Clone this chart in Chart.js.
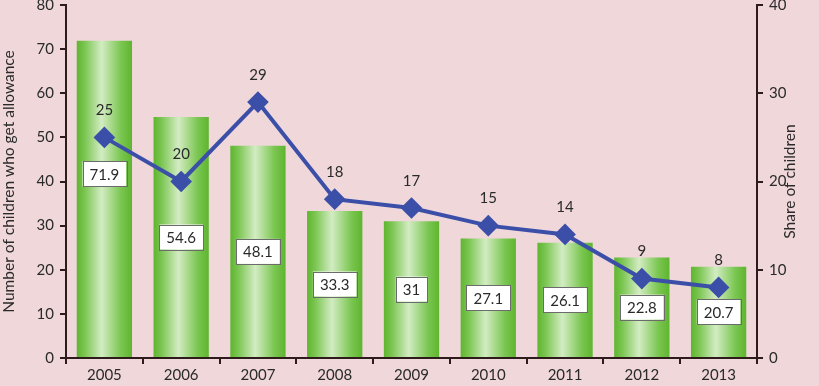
<!DOCTYPE html>
<html>
<head>
<meta charset="utf-8">
<script src="https://cdn.jsdelivr.net/npm/chart.js@4"></script>
<style>
  html, body { margin: 0; padding: 0; background: #efd7da; }
  #wrap { width: 819px; height: 386px; }
</style>
</head>
<body>
<div id="wrap"><canvas id="chart" width="819" height="386"></canvas></div>
<script>
const years = ['2005', '2006', '2007', '2008', '2009', '2010', '2011', '2012', '2013'];
const childrenCount = [71.9, 54.6, 48.1, 33.3, 31, 27.1, 26.1, 22.8, 20.7];
const childrenShare = [25, 20, 29, 18, 17, 15, 14, 9, 8];
const leftTicks = [0, 10, 20, 30, 40, 50, 60, 70, 80];
const rightTicks = [0, 10, 20, 30, 40];

const axisColor = '#2e1c1c';
const textColor = '#2a2a2a';
const fontFamily = 'Lato, "Open Sans", sans-serif';

// gradient for each bar, light stripe a bit left of centre
function barGradient(ctx) {
  const chart = ctx.chart;
  if (!chart.chartArea || !chart.scales.x) return '#7cc44f';
  const x = chart.scales.x.getPixelForValue(ctx.dataIndex);
  const w = (chart.scales.x.width / years.length) * 0.72;
  const g = chart.ctx.createLinearGradient(x - w / 2, 0, x + w / 2, 0);
  g.addColorStop(0, '#5fb52f');
  g.addColorStop(0.15, '#7cc653');
  g.addColorStop(0.45, '#d3ecc3');
  g.addColorStop(0.8, '#7ac651');
  g.addColorStop(1, '#5fb52f');
  return g;
}

// white boxed labels inside bars, plain labels above line points, rotated right title
const labelPlugin = {
  id: 'labels',
  afterDatasetsDraw(chart, args, opts) {
    const ctx = chart.ctx;
    const shift = opts.boxShift || {};
    ctx.save();
    ctx.font = '15px ' + fontFamily;
    ctx.textAlign = 'center';
    ctx.textBaseline = 'middle';

    const bars = chart.getDatasetMeta(0).data;
    bars.forEach((bar, i) => {
      const txt = String(childrenCount[i]);
      const cy = (bar.y + bar.base) / 2 + (shift[i] || 0);
      const tw = ctx.measureText(txt).width;
      const bw = tw + 14, bh = 25;
      ctx.fillStyle = '#ffffff';
      ctx.fillRect(bar.x - bw / 2, cy - bh / 2, bw, bh);
      ctx.strokeStyle = '#6b6b6b';
      ctx.lineWidth = 1;
      ctx.strokeRect(Math.round(bar.x - bw / 2) + 0.5, Math.round(cy - bh / 2) + 0.5, Math.round(bw), bh);
      ctx.fillStyle = textColor;
      ctx.fillText(txt, bar.x, cy + 1);
    });

    const pts = chart.getDatasetMeta(1).data;
    pts.forEach((p, i) => {
      ctx.fillStyle = textColor;
      ctx.fillText(String(childrenShare[i]), p.x, p.y - 27);
    });

    // right axis title, reading bottom to top
    const r = chart.scales.y1;
    ctx.translate(790, (r.top + r.bottom) / 2);
    ctx.rotate(-Math.PI / 2);
    ctx.font = '15.5px ' + fontFamily;
    ctx.fillText('Share of children', 0, 0);
    ctx.restore();
  }
};

// let the top tick label stick out above the plot, as in the original
const noPad = () => ({ left: 0, top: 0, right: 0, bottom: 0 });
function fitY(width) {
  return s => {
    s.width = width;
    s.paddingTop = 0;
    s.paddingBottom = 0;
    s.getPadding = noPad;
  };
}

new Chart(document.getElementById('chart'), {
  data: {
    labels: years,
    datasets: [
      {
        type: 'bar',
        data: childrenCount,
        backgroundColor: barGradient,
        borderWidth: 0,
        categoryPercentage: 1,
        barPercentage: 0.72,
        yAxisID: 'y',
        order: 2
      },
      {
        type: 'line',
        data: childrenShare,
        borderColor: '#3b4fa8',
        backgroundColor: '#3b4fa8',
        borderWidth: 4,
        pointStyle: 'rectRot',
        pointRadius: 8,
        pointHoverRadius: 8,
        tension: 0,
        clip: false,
        yAxisID: 'y1',
        order: 1
      }
    ]
  },
  options: {
    responsive: false,
    animation: false,
    layout: { autoPadding: false, padding: { top: 5, bottom: 0 } },
    plugins: {
      legend: { display: false },
      tooltip: { enabled: false },
      labels: { boxShift: { 0: -25 } }
    },
    scales: {
      x: {
        grid: { offset: true, drawOnChartArea: false, drawTicks: true, tickLength: 6, color: axisColor, lineWidth: 2 },
        border: { display: true, color: axisColor, width: 2 },
        ticks: { color: textColor, font: { family: fontFamily, size: 15 }, padding: 2 },
        afterFit: s => { s.height = 28; s.paddingLeft = 0; s.paddingRight = 0; s.getPadding = noPad; }
      },
      y: {
        position: 'left',
        min: 0,
        max: 80,
        afterBuildTicks: s => { s.ticks = leftTicks.map(v => ({ value: v })); },
        grid: { drawOnChartArea: false, drawTicks: true, tickLength: 6, color: axisColor, lineWidth: 2 },
        border: { display: true, color: axisColor, width: 2 },
        ticks: { color: textColor, font: { family: fontFamily, size: 15 }, padding: 6 },
        title: { display: true, text: 'Number of children who get allowance', color: textColor, font: { family: fontFamily, size: 15.5 }, padding: 0 },
        afterFit: fitY(66)
      },
      y1: {
        position: 'right',
        min: 0,
        max: 40,
        afterBuildTicks: s => { s.ticks = rightTicks.map(v => ({ value: v })); },
        grid: { drawOnChartArea: false, drawTicks: true, tickLength: 6, color: axisColor, lineWidth: 2 },
        border: { display: true, color: axisColor, width: 2 },
        ticks: { color: textColor, font: { family: fontFamily, size: 15 }, padding: 6 },
        afterFit: fitY(62)
      }
    }
  },
  plugins: [labelPlugin]
});
</script>
</body>
</html>
